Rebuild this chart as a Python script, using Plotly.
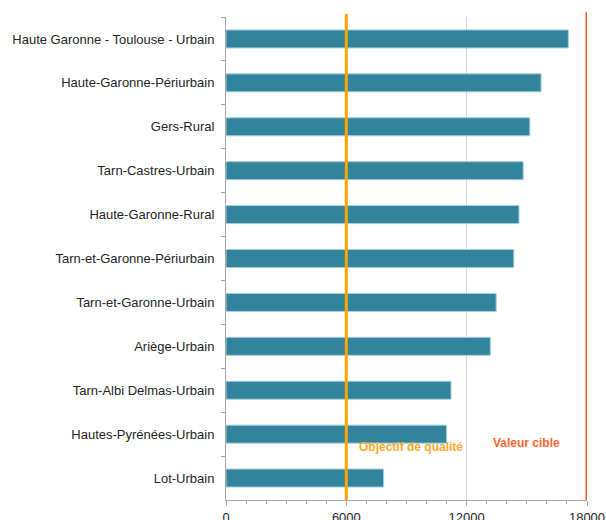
import plotly.graph_objects as go

categories = [
    "Haute Garonne - Toulouse - Urbain",
    "Haute-Garonne-Périurbain",
    "Gers-Rural",
    "Tarn-Castres-Urbain",
    "Haute-Garonne-Rural",
    "Tarn-et-Garonne-Périurbain",
    "Tarn-et-Garonne-Urbain",
    "Ariège-Urbain",
    "Tarn-Albi Delmas-Urbain",
    "Hautes-Pyrénées-Urbain",
    "Lot-Urbain",
]
values = [17070, 15710, 15150, 14820, 14610, 14350, 13470, 13180, 11220, 11000, 7860]

objectif = 6000
valeur_cible = 18000
tick_vals = [0, 6000, 12000, 18000]
tick_text = ["0", "6000", "12000", "18000"]

FONT = "Liberation Sans"

fig = go.Figure()
fig.add_trace(go.Bar(
    x=values, y=categories, orientation="h",
    marker=dict(color="#31849B", line=dict(color="#a8cfdb", width=1)),
    width=0.41, showlegend=False,
))

fig.add_shape(type="line", xref="x", yref="paper", x0=objectif, x1=objectif,
              y0=0, y1=1.006, line=dict(color="#FFA500", width=3), layer="above")
fig.add_shape(type="line", xref="x", yref="paper", x0=valeur_cible, x1=valeur_cible,
              y0=0, y1=1.01, line=dict(color="#FF5A1A", width=3), layer="above")

fig.add_annotation(x=9230, y=0.091, xref="x", yref="paper", text="<b>Objectif de qualité</b>",
                   showarrow=False, font=dict(family=FONT, size=12, color="#FFAA2B"))
fig.add_annotation(x=14960, y=0.099, xref="x", yref="paper", text="<b>Valeur cible</b>",
                   showarrow=False, font=dict(family=FONT, size=12, color="#FF6630"))

fig.update_layout(
    width=606, height=520,
    margin=dict(l=226, r=19, t=17, b=20, autoexpand=False),
    paper_bgcolor="white", plot_bgcolor="white",
    font=dict(family=FONT, size=13, color="#262626"),
    bargap=0.59,
    xaxis=dict(
        range=[0, 18000], tickvals=tick_vals, ticktext=tick_text,
        showgrid=True, gridcolor="#d9d9d9", gridwidth=1,
        showline=True, linecolor="#a6a6a6", linewidth=1,
        ticks="outside", ticklen=5, tickcolor="#a6a6a6",
        minor=dict(dtick=1000, tick0=0, ticks="outside", ticklen=3, tickcolor="#a6a6a6", showgrid=False),
        zeroline=False, tickfont=dict(size=13, color="#262626"),
        automargin=False,
    ),
    yaxis=dict(
        autorange="reversed", type="category",
        showline=True, linecolor="#a6a6a6", linewidth=1,
        ticks="outside", ticklen=4, tickcolor="#a6a6a6", tickson="boundaries",
        showgrid=False, ticklabelstandoff=8,
        tickfont=dict(size=13, color="#262626"),
        automargin=False,
    ),
)

fig.write_html("out.html")
